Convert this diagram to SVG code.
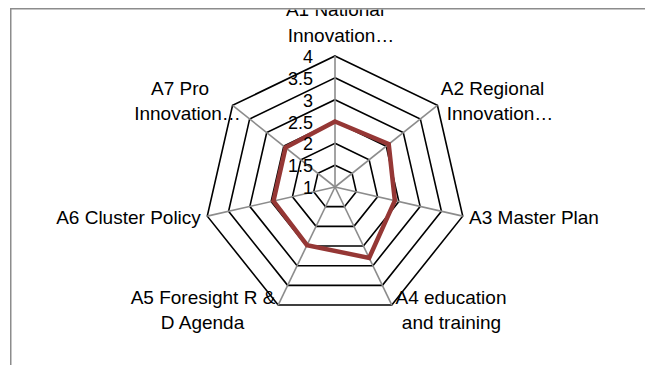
<svg xmlns="http://www.w3.org/2000/svg" width="645" height="365" viewBox="0 0 645 365">
  <style>
    .ring { fill: none; stroke: #000000; stroke-width: 1.6; stroke-linejoin: miter; }
    .spoke { stroke: #8c8c8c; stroke-width: 1.6; }
    .series { fill: none; stroke: #953735; stroke-width: 4.5; stroke-linejoin: miter; }
    .tick { font-family: "Liberation Sans", Arial, sans-serif; font-size: 18px; fill: #000; text-anchor: end; }
    .cat { font-family: "Liberation Sans", Arial, sans-serif; font-size: 19px; fill: #000; text-anchor: middle; }
    .frame { fill: none; stroke: #8c8c8c; stroke-width: 1.5; }
  </style>
  <defs>
    <clipPath id="plotClip">
      <rect x="11.5" y="9.5" width="640" height="360"/>
    </clipPath>
  </defs>
  <rect x="0" y="0" width="645" height="365" fill="#ffffff"/>

  <g id="grid">
    <polygon class="ring" points="335,165.17 352.07,173.39 356.28,191.86 344.47,206.67 325.53,206.67 313.72,191.86 317.93,173.39"/>
    <polygon class="ring" points="335,143.33 369.14,159.77 377.57,196.72 353.95,226.35 316.05,226.35 292.43,196.72 300.86,159.77"/>
    <polygon class="ring" points="335,121.5 386.21,146.16 398.86,201.58 363.42,246.01 306.58,246.01 271.14,201.58 283.79,146.16"/>
    <polygon class="ring" points="335,99.67 403.28,132.55 420.14,206.43 372.89,265.68 297.11,265.68 249.86,206.43 266.72,132.55"/>
    <polygon class="ring" points="335,77.83 420.35,118.93 441.43,211.29 382.37,285.36 287.63,285.36 228.57,211.29 249.65,118.93"/>
    <polygon class="ring" points="335,56 437.42,105.32 462.72,216.15 391.84,305.03 278.16,305.03 207.28,216.15 232.58,105.32"/>
  </g>

  <g id="axes">
    <line class="spoke" x1="335" y1="187" x2="335" y2="56"/>
    <line class="spoke" x1="335" y1="187" x2="437.42" y2="105.32"/>
    <line class="spoke" x1="335" y1="187" x2="462.72" y2="216.15"/>
    <line class="spoke" x1="335" y1="187" x2="391.84" y2="305.03"/>
    <line class="spoke" x1="335" y1="187" x2="278.16" y2="305.03"/>
    <line class="spoke" x1="335" y1="187" x2="207.28" y2="216.15"/>
    <line class="spoke" x1="335" y1="187" x2="232.58" y2="105.32"/>
  </g>

  <g id="series">
    <polygon class="series" points="335,121.5 388.71,144.17 394.86,200.66 369.15,257.91 307.01,245.11 273.48,201.04 285.59,147.6"/>
  </g>

  <g id="tick-labels">
    <text class="tick" x="313" y="63">4</text>
    <text class="tick" x="313" y="84.8">3.5</text>
    <text class="tick" x="313" y="106.7">3</text>
    <text class="tick" x="313" y="128.5">2.5</text>
    <text class="tick" x="313" y="150.3">2</text>
    <text class="tick" x="313" y="172.2">1.5</text>
    <text class="tick" x="313" y="194">1</text>
  </g>

  <g id="category-labels" clip-path="url(#plotClip)">
    <g id="A1">
      <text class="cat" x="335" y="16">A1 National</text>
      <text class="cat" x="341" y="41.5">Innovation…</text>
    </g>
    <g id="A2">
      <text class="cat" x="492.5" y="95">A2 Regional</text>
      <text class="cat" x="500" y="120">Innovation…</text>
    </g>
    <g id="A3">
      <text class="cat" x="534" y="223.5">A3 Master Plan</text>
    </g>
    <g id="A4">
      <text class="cat" x="451" y="304">A4 education</text>
      <text class="cat" x="451.5" y="328.5">and training</text>
    </g>
    <g id="A5">
      <text class="cat" x="203" y="304">A5 Foresight R &amp;</text>
      <text class="cat" x="202.5" y="328.5">D Agenda</text>
    </g>
    <g id="A6">
      <text class="cat" x="128.5" y="224">A6 Cluster Policy</text>
    </g>
    <g id="A7">
      <text class="cat" x="180" y="95">A7 Pro</text>
      <text class="cat" x="187.5" y="120">Innovation…</text>
    </g>
  </g>

  <path class="frame" d="M10.75,365 V8.75 H645"/>
</svg>
